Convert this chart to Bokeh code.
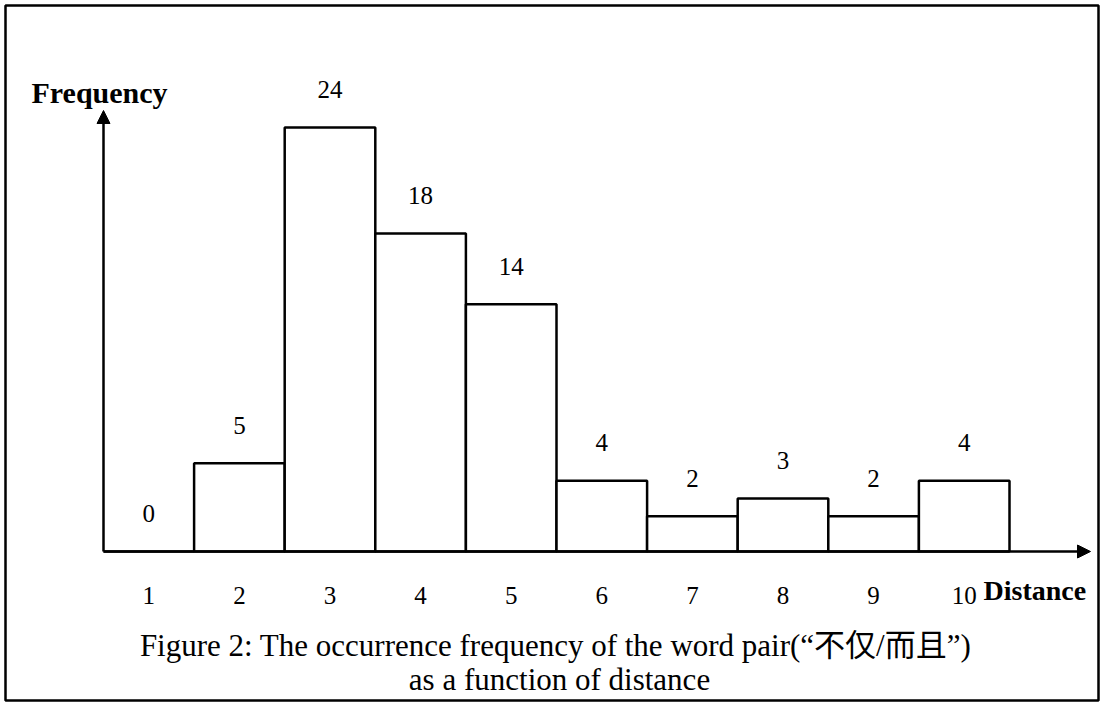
from bokeh.plotting import figure
from bokeh.models import Arrow, NormalHead, ColumnDataSource
from bokeh.core.properties import value
from bokeh.embed import file_html
from bokeh.resources import INLINE

# ---- data ----
distance = [1, 2, 3, 4, 5, 6, 7, 8, 9, 10]
frequency = [0, 5, 24, 18, 14, 4, 2, 3, 2, 4]
tick_labels = ["1", "2", "3", "4", "5", "6", "7", "8", "9", "10"]
y_label = "Frequency"
x_label = "Distance"
caption_line1 = "Figure 2: The occurrence frequency of  the word pair(\u201c不仅/而且\u201d)"
caption_line2 = "as a function of distance"

# ---- layout (page pixels) ----
W, H = 1100, 702
FRAME_L, FRAME_T, FRAME_R, FRAME_B = 5, 5, 1098, 700
AXIS_X_PX = 103
BAR_RIGHT_PX = 1009
BASE_PX = 551
TOP_MAX_PX = 127
PXU = (BAR_RIGHT_PX - AXIS_X_PX) / len(distance)
PYU = (BASE_PX - TOP_MAX_PX) / max(frequency)


def dx(px):
    return 0.5 + (px - AXIS_X_PX) / PXU


def dy(py):
    return (BASE_PX - py) / PYU


SERIF = value("Liberation Serif")
CAP_FONT = value("Liberation Serif, Noto Sans CJK SC")

p = figure(width=W, height=H,
           x_range=(dx(FRAME_L), dx(FRAME_R)),
           y_range=(dy(FRAME_B), dy(FRAME_T)),
           x_axis_type=None, y_axis_type=None,
           toolbar_location=None, output_backend="svg",
           min_border_left=FRAME_L, min_border_top=FRAME_T,
           min_border_right=W - FRAME_R, min_border_bottom=H - FRAME_B)
p.title.visible = False
p.outline_line_color = "black"
p.outline_line_width = 2.5
p.background_fill_color = "white"
p.border_fill_color = "white"

src = ColumnDataSource(dict(
    distance=distance,
    frequency=frequency,
    label=[str(v) for v in frequency],
    label_y=[v + 38 / PYU for v in frequency],
))

p.vbar(x="distance", top="frequency", bottom=0, width=1, source=src,
       fill_color="white", line_color="black", line_width=2.5)

p.text(x="distance", y="label_y", text="label", source=src,
       text_font=SERIF, text_font_size="25px", text_color="black",
       text_align="center", text_baseline="middle")

# axes with arrows
p.add_layout(Arrow(end=NormalHead(size=13, fill_color="black", line_color="black"),
                   x_start=0.5, y_start=0, x_end=0.5, y_end=dy(110),
                   line_color="black", line_width=2.5))
p.add_layout(Arrow(end=NormalHead(size=13, fill_color="black", line_color="black"),
                   x_start=0.5, y_start=0, x_end=dx(1090), y_end=0,
                   line_color="black", line_width=2.5))

# tick labels
p.text(x=distance, y=[dy(595)] * len(distance), text=tick_labels,
       text_font=SERIF, text_font_size="25px", text_color="black",
       text_align="center", text_baseline="alphabetic")

# axis titles
p.text(x=[dx(31)], y=[dy(92)], text=[y_label],
       text_font=SERIF, text_font_size="30px", text_font_style="bold",
       text_color="black", text_align="left", text_baseline="alphabetic")
p.text(x=[dx(983)], y=[dy(590)], text=[x_label],
       text_font=SERIF, text_font_size="28px", text_font_style="bold",
       text_color="black", text_align="left", text_baseline="alphabetic")

# caption
p.text(x=[dx(559), dx(559)], y=[dy(645), dy(679)],
       text=[caption_line1, caption_line2],
       text_font=CAP_FONT, text_font_size="31px", text_color="black",
       text_align="center", text_baseline="alphabetic")

open("out.html", "w").write(file_html(p, INLINE))
